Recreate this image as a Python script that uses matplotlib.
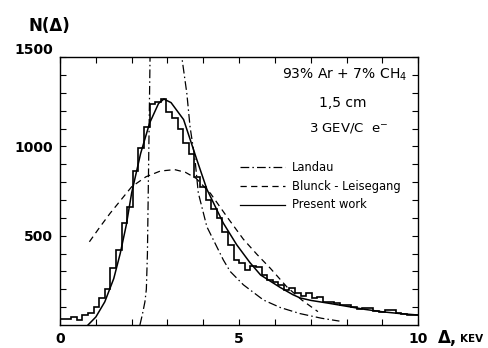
import numpy as np
import matplotlib
matplotlib.use("Agg")
import matplotlib.pyplot as plt

# ---- data ----
bin_width = 10 / 64
hist_counts = [35, 35, 46, 30, 55, 65, 100, 150, 200, 320,
               420, 570, 660, 860, 990, 1110, 1235, 1250, 1265, 1190,
               1160, 1100, 1020, 960, 830, 775, 700, 650, 600, 520,
               450, 365, 345, 310, 330, 325, 280, 252, 240, 222,
               195, 207, 180, 162, 179, 150, 158, 130, 128, 125,
               112, 110, 100, 92, 95, 95, 80, 74, 84, 84,
               70, 63, 58, 55]

landau_x = [2.23, 2.30, 2.37, 2.41, 2.44, 2.46, 2.48, 2.50, 2.52, 2.56, 2.8, 3.1, 3.3, 3.40,
            3.54, 3.63, 3.77, 3.86, 4.10, 4.56, 4.75, 5.12, 5.68, 6.15, 6.7, 7.3, 7.8]
landau_y = [0, 60, 130, 200, 400, 700, 1000, 1300, 1600, 2000, 2800, 2600, 1900, 1500,
            1297, 1110, 923, 740, 550, 364, 300, 225, 140, 98, 64, 38, 22]

blunck_x = [0.82, 1.1, 1.4, 1.7, 2.0, 2.4, 2.8, 3.2, 3.5, 3.8, 4.2, 4.66, 5.12, 5.5,
            5.87, 6.33, 6.75, 7.2]
blunck_y = [466, 545, 626, 700, 774, 830, 862, 870, 855, 821, 737, 606, 480, 395,
            318, 214, 140, 75]

present_x = [0.78, 1.0, 1.25, 1.5, 1.68, 1.85, 2.0, 2.25, 2.5, 2.75, 2.9, 3.1, 3.45,
             3.82, 4.1, 4.56, 4.93, 5.3, 5.6, 6.15, 6.5, 6.7, 7.0, 7.5, 8.0, 8.5, 9.0,
             9.5, 10.0]
present_y = [0, 45, 130, 260, 400, 560, 740, 960, 1130, 1240, 1265, 1245, 1150,
             925, 760, 570, 450, 350, 280, 210, 170, 152, 138, 122, 105, 88, 74,
             64, 56]

legend_labels = ["Landau", "Blunck - Leisegang", "Present work"]
info_lines = ["93% Ar + 7% CH$_4$", "1,5 cm", "3 GEV/C  e$^{-}$"]
xtick_vals = [0, 5, 10]
ytick_vals = [500, 1000, 1500]

# ---- figure ----
fig = plt.figure(figsize=(4.88, 3.48), dpi=100)
ax = fig.add_axes([0.123, 0.066, 0.734, 0.770])

edges = np.arange(len(hist_counts) + 1) * bin_width
ax.stairs(hist_counts, edges, baseline=None, color="black", lw=1.2)

dashdot = (0, (7, 2.5, 1.2, 2.5))
dashed = (0, (5, 3.5))
ax.plot(landau_x, landau_y, color="black", lw=0.9, linestyle=dashdot)
ax.plot(blunck_x, blunck_y, color="black", lw=0.9, linestyle=dashed)
ax.plot(present_x, present_y, color="black", lw=1.1)

ax.set_xlim(0, 10)
ax.set_ylim(0, 1500)

# ticks
xt = np.arange(0, 11, 1)
ax.set_xticks(xt)
ax.set_xticklabels([str(v) if v in xtick_vals else "" for v in xt])
yt = np.arange(100, 1600, 100)
ax.set_yticks(yt)
ax.set_yticklabels([str(v) if v in ytick_vals else "" for v in yt])
ax.tick_params(direction="in", top=True, right=True, length=4, width=0.8,
               labelsize=10, pad=5)
for lab in ax.get_xticklabels() + ax.get_yticklabels():
    lab.set_fontweight("bold")
for s in ax.spines.values():
    s.set_linewidth(1.0)
ax.yaxis.get_major_ticks()[-1].label1.set_verticalalignment("bottom")

# axis labels
fig.text(0.058, 0.925, "N(Δ)", fontsize=12, fontweight="bold", ha="left", va="center")
fig.text(0.898, 0.028, "Δ,", fontsize=12, fontweight="bold", ha="left", va="center")
fig.text(0.942, 0.026, "KEV", fontsize=7.5, fontweight="bold", ha="left", va="center")

# info text
ax.text(9.69, 1399, info_lines[0], fontsize=10, ha="right", va="center")
ax.text(7.9, 1242, info_lines[1], fontsize=10, ha="center", va="center")
ax.text(8.05, 1102, info_lines[2], fontsize=9.5, ha="center", va="center")

# legend drawn by hand
styles = [dashdot, dashed, "-"]
ys = [884, 778, 672]
for lab, st, yy in zip(legend_labels, styles, ys):
    ax.plot([5.03, 6.28], [yy, yy], color="black", lw=0.9, linestyle=st)
    ax.text(6.48, yy, lab, fontsize=8.3, ha="left", va="center")

fig.savefig("out.png", dpi=100)
